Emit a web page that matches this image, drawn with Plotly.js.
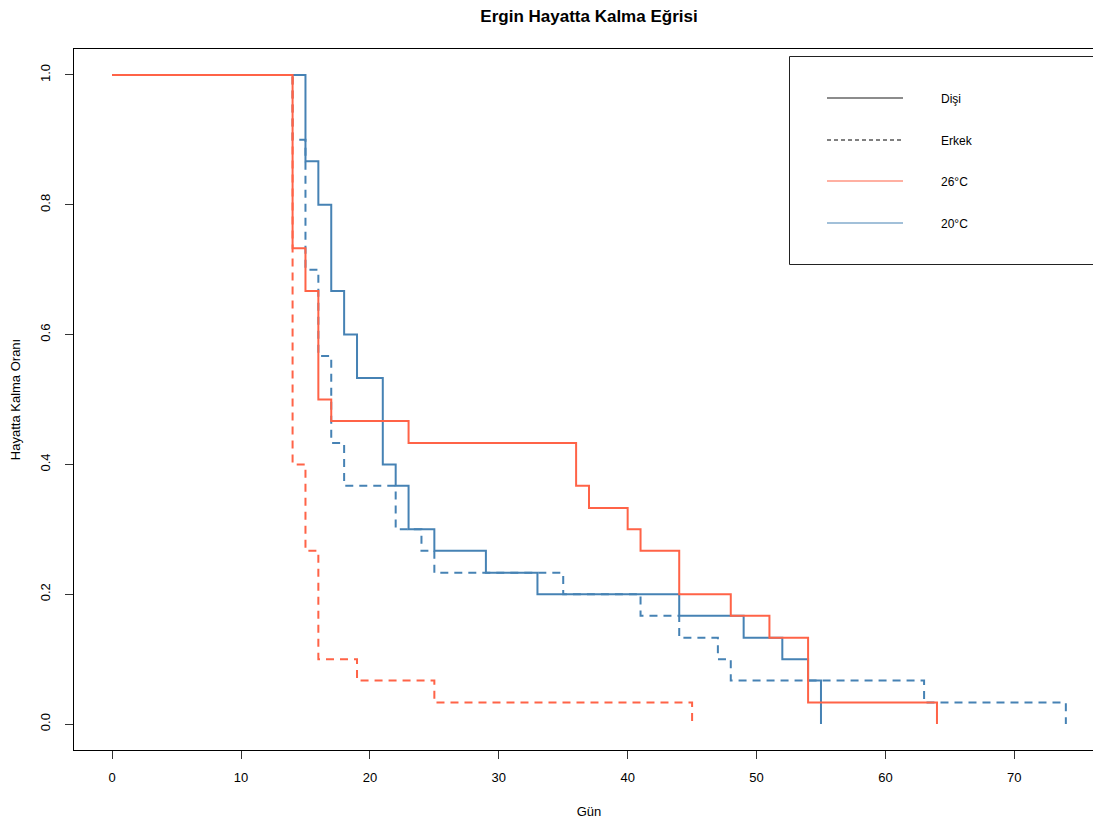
<!DOCTYPE html>
<html>
<head>
<meta charset="utf-8">
<script src="https://cdn.plot.ly/plotly-3.0.1.min.js"></script>
<style>
html, body { margin: 0; padding: 0; overflow: hidden; background: #fff; }
#chart { width: 1104px; height: 826px; }
</style>
</head>
<body>
<div id="chart"></div>
<script>
// ---- Data (Kaplan-Meier step values) ----
const gun_26_disi  = [0, 14, 15, 16, 17, 23, 36, 37, 40, 41, 44, 48, 51, 54, 64];
const oran_26_disi = [1, 0.733, 0.667, 0.5, 0.467, 0.433, 0.367, 0.333, 0.3, 0.267, 0.2, 0.167, 0.133, 0.033, 0];

const gun_26_erkek  = [0, 14, 15, 16, 19, 25, 45];
const oran_26_erkek = [1, 0.4, 0.267, 0.1, 0.067, 0.033, 0];

const gun_20_disi  = [0, 15, 16, 17, 18, 19, 21, 22, 23, 25, 29, 33, 44, 49, 52, 54, 55];
const oran_20_disi = [1, 0.867, 0.8, 0.667, 0.6, 0.533, 0.4, 0.367, 0.3, 0.267, 0.233, 0.2, 0.167, 0.133, 0.1, 0.067, 0];

const gun_20_erkek  = [0, 14, 15, 16, 17, 18, 22, 24, 25, 35, 41, 44, 47, 48, 63, 74];
const oran_20_erkek = [1, 0.9, 0.7, 0.567, 0.433, 0.367, 0.3, 0.267, 0.233, 0.2, 0.167, 0.133, 0.1, 0.067, 0.033, 0];

const legendLabels = ["Dişi", "Erkek", "26°C", "20°C"];
const xTicks = [0, 10, 20, 30, 40, 50, 60, 70];
const yTicks = [0.0, 0.2, 0.4, 0.6, 0.8, 1.0];
const yTickText = ["0.0", "0.2", "0.4", "0.6", "0.8", "1.0"];

// ---- Styles ----
const RED = "#FF6347";   // tomato
const BLUE = "#4682B4";  // steelblue
const FONT = "Liberation Sans, Arial, sans-serif";

function stepTrace(x, y, color, dash, name) {
  return {
    x: x, y: y, type: "scatter", mode: "lines", name: name,
    line: { shape: "hv", color: color, width: 2, dash: dash },
    showlegend: false, hoverinfo: "skip"
  };
}

const traces = [
  stepTrace(gun_20_erkek, oran_20_erkek, BLUE, "8px,6px", "20°C Erkek"),
  stepTrace(gun_20_disi, oran_20_disi, BLUE, "solid", "20°C Dişi"),
  stepTrace(gun_26_erkek, oran_26_erkek, RED, "8px,6px", "26°C Erkek"),
  stepTrace(gun_26_disi, oran_26_disi, RED, "solid", "26°C Dişi")
];

// pixel -> paper helpers for the hand-drawn legend box
const L = 74, T = 49, W = 1030, H = 701;
const px = v => (v - L) / W;
const py = v => (T + H - v) / H;

const rowY = [99, 141, 182, 224];
const legendLine = [
  { color: "#666666", width: 1.6, dash: "solid" },
  { color: "#000000", width: 1, dash: "4px,3px" },
  { color: RED, width: 1.2, dash: "solid" },
  { color: BLUE, width: 1.2, dash: "solid" }
];

const shapes = [{
  type: "rect", xref: "paper", yref: "paper",
  x0: px(789.5), x1: px(1110), y0: py(264.5), y1: py(56.5),
  line: { color: "#222", width: 1 }, fillcolor: "rgba(0,0,0,0)"
}];
const annotations = [];
legendLabels.forEach((lab, i) => {
  shapes.push({
    type: "line", xref: "paper", yref: "paper",
    x0: px(827), x1: px(903), y0: py(rowY[i] - 1), y1: py(rowY[i] - 1),
    line: legendLine[i]
  });
  annotations.push({
    xref: "paper", yref: "paper", x: px(939), y: py(rowY[i]),
    xanchor: "left", yanchor: "middle", showarrow: false,
    text: lab, font: { family: FONT, size: 12, color: "#000" }
  });
});

const layout = {
  width: 1104, height: 826,
  margin: { l: L, r: 0, t: T, b: 826 - T - H, pad: 0 },
  paper_bgcolor: "#fff", plot_bgcolor: "#fff",
  font: { family: FONT, size: 13, color: "#000" },
  title: {
    text: "Ergin Hayatta Kalma Eğrisi",
    x: 0.5, xref: "paper", xanchor: "center",
    y: 1 - 16 / 826, yref: "container", yanchor: "middle",
    font: { family: FONT, size: 17, weight: "bold", color: "#000" }
  },
  xaxis: {
    range: [-2.96, 76.96], tickvals: xTicks, ticktext: xTicks.map(String),
    showgrid: false, zeroline: false,
    showline: true, mirror: true, linecolor: "#000", linewidth: 1,
    ticks: "outside", ticklen: 8, tickcolor: "#333", tickwidth: 1,
    ticklabelstandoff: 7,
    tickfont: { family: FONT, size: 13, color: "#000" },
    title: { text: "Gün", font: { family: FONT, size: 13, color: "#000" }, standoff: 23 }
  },
  yaxis: {
    range: [-0.04, 1.04], tickvals: yTicks, ticktext: yTickText,
    showgrid: false, zeroline: false,
    showline: true, mirror: true, linecolor: "#000", linewidth: 1,
    ticks: "outside", ticklen: 8, tickcolor: "#333", tickwidth: 1,
    tickangle: -90, ticklabelstandoff: 10,
    tickfont: { family: FONT, size: 13, color: "#000" },
    title: { text: "Hayatta Kalma Oranı", font: { family: FONT, size: 13, color: "#000" }, standoff: 14 }
  },
  shapes: shapes,
  annotations: annotations,
  hovermode: false
};

Plotly.newPlot("chart", traces, layout, { staticPlot: true, displayModeBar: false });
</script>
</body>
</html>
